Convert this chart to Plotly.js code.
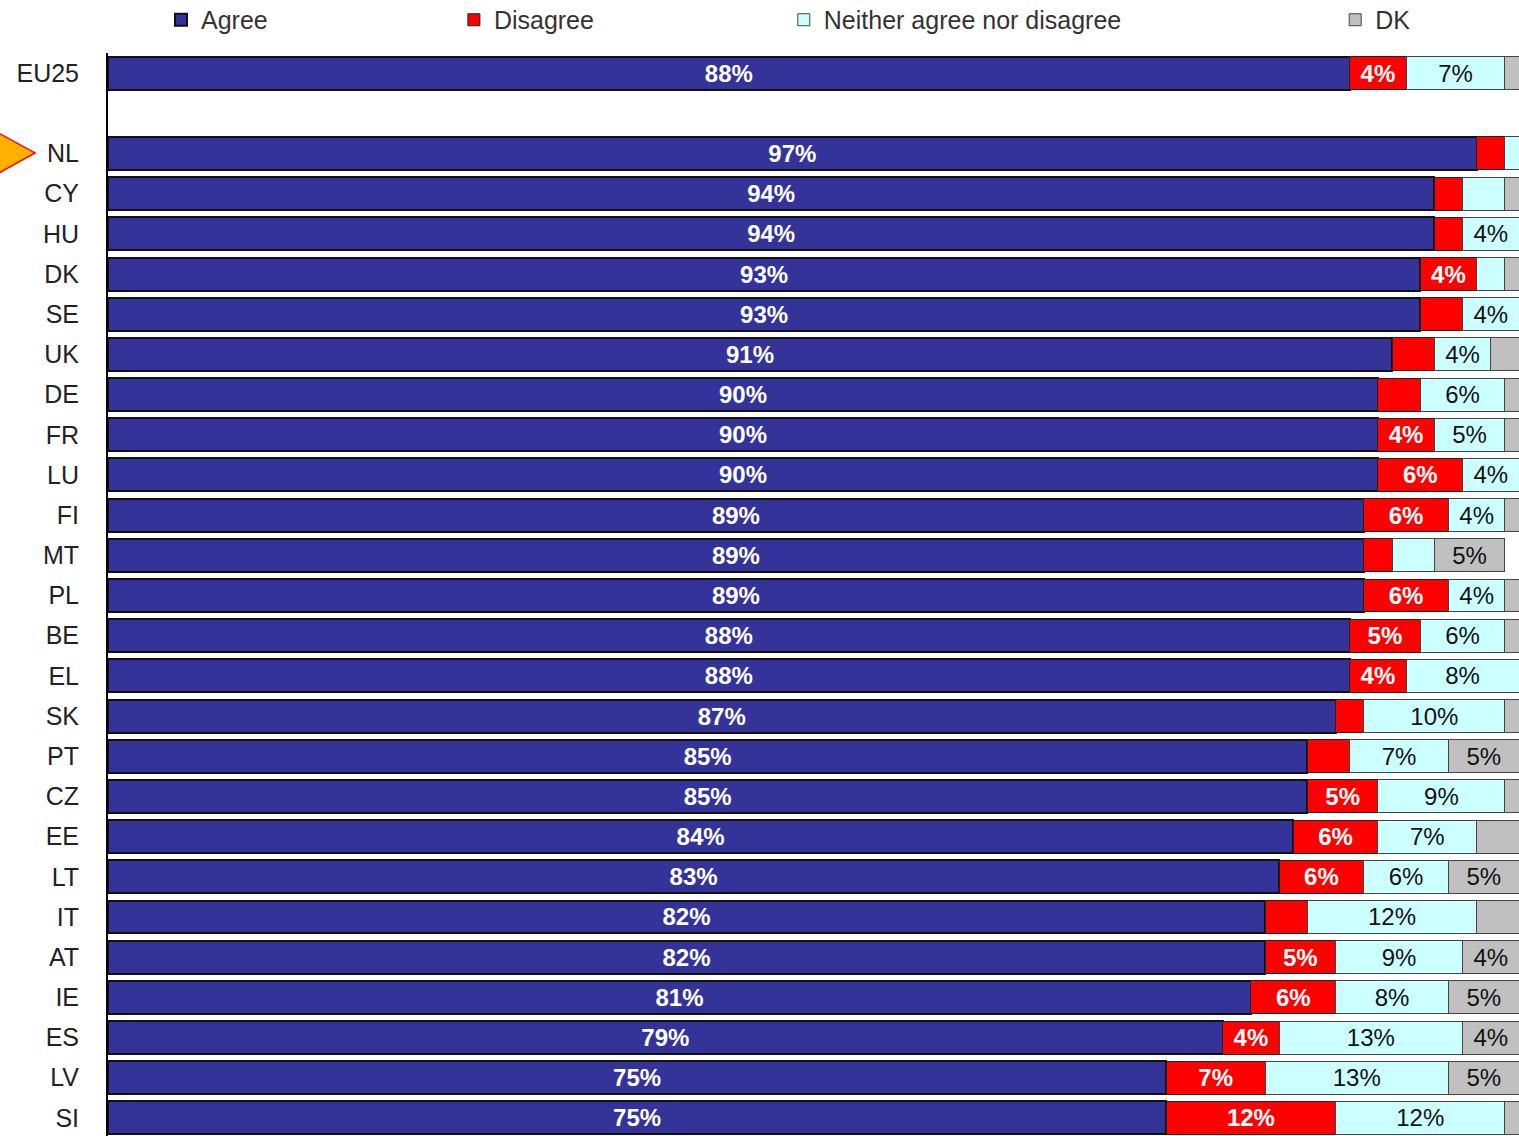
<!DOCTYPE html>
<html>
<head>
<meta charset="utf-8">
<script src="https://cdn.plot.ly/plotly-3.0.1.min.js"></script>
<style>
  html, body { margin: 0; padding: 0; background: #fff; }
  #chart { width: 1519px; height: 1136px; }
</style>
</head>
<body>
<div id="chart"></div>
<script>
// ' ' is the empty row between EU25 and the countries
var countries = ['EU25', ' ', 'NL', 'CY', 'HU', 'DK', 'SE', 'UK', 'DE', 'FR', 'LU', 'FI', 'MT', 'PL',
                 'BE', 'EL', 'SK', 'PT', 'CZ', 'EE', 'LT', 'IT', 'AT', 'IE', 'ES', 'LV', 'SI'];
var agree    = [88, null, 97, 94, 94, 93, 93, 91, 90, 90, 90, 89, 89, 89, 88, 88, 87, 85, 85, 84, 83, 82, 82, 81, 79, 75, 75];
var disagree = [4, null, 2, 2, 2, 4, 3, 3, 3, 4, 6, 6, 2, 6, 5, 4, 2, 3, 5, 6, 6, 3, 5, 6, 4, 7, 12];
var neither  = [7, null, 1, 3, 4, 2, 4, 4, 6, 5, 4, 4, 3, 4, 6, 8, 10, 7, 9, 7, 6, 12, 9, 8, 13, 13, 12];
var dk       = [1, null, 1, 1, 1, 1, 0, 2, 1, 1, 0, 1, 5, 2, 1, 1, 2, 5, 1, 3, 5, 3, 4, 5, 4, 5, 1];

var FONT = 'Liberation Sans, Arial, sans-serif';

// small shares (< 4%) carry no label in the original
function labels(vals) {
  return vals.map(function (v) { return (v !== null && v >= 4) ? v + '%' : ''; });
}

function segment(name, vals, fill, edge, edgeWidth, textColor, weight, legendId) {
  return {
    type: 'bar',
    orientation: 'h',
    name: name,
    y: countries,
    x: vals,
    text: labels(vals),
    textposition: 'inside',
    insidetextanchor: 'middle',
    textangle: 0,
    constraintext: 'none',
    insidetextfont: {family: FONT, size: 24, color: textColor, weight: weight},
    marker: {color: fill, line: {color: edge, width: edgeWidth}},
    hovertemplate: '%{y}: %{x}%<extra>' + name + '</extra>',
    legend: legendId
  };
}

var traces = [
  segment('Agree', agree, '#333399', '#111111', 2, '#ffffff', 'bold', 'legend'),
  segment('Disagree', disagree, '#ff0000', '#222222', 1, '#ffffff', 'bold', 'legend2'),
  segment('Neither agree nor disagree', neither, '#ccffff', '#444444', 1, '#111111', 'normal', 'legend3'),
  segment('DK', dk, '#c0c0c0', '#444444', 1, '#111111', 'normal', 'legend4')
];

// legends sit on the container so they do not push the top margin
function legendAt(x) {
  return {
    orientation: 'h', xref: 'container', yref: 'container',
    x: x, y: 0.9824, xanchor: 'left', yanchor: 'middle',
    font: {family: FONT, size: 25, color: '#333'},
    bgcolor: 'rgba(0,0,0,0)', borderwidth: 0
  };
}

var layout = {
  width: 1519,
  height: 1136,
  margin: {l: 108, r: 0, t: 53, b: 0},
  barmode: 'stack',
  bargap: 0.18,
  paper_bgcolor: '#ffffff',
  plot_bgcolor: '#ffffff',
  font: {family: FONT, color: '#222'},
  showlegend: true,
  xaxis: {range: [0, 100], visible: false, fixedrange: true},
  yaxis: {
    type: 'category',
    categoryorder: 'array',
    categoryarray: countries,
    range: [26.45, -0.5],
    showline: true, linecolor: '#000', linewidth: 2,
    ticks: '', showgrid: false, zeroline: false,
    tickfont: {family: FONT, size: 25, color: '#222'},
    ticklabelstandoff: 22,
    fixedrange: true
  },
  legend: legendAt(0.1060),
  legend2: legendAt(0.2988),
  legend3: legendAt(0.5160),
  legend4: legendAt(0.8790),
  shapes: [{
    // orange pointer in front of NL
    type: 'path', xref: 'paper', yref: 'paper',
    path: 'M -0.0801 0.928 L -0.0517 0.9077 L -0.0801 0.8873 Z',
    fillcolor: '#ffb000', line: {color: '#ff0000', width: 1.5}
  }]
};

Plotly.newPlot('chart', traces, layout, {displayModeBar: false, staticPlot: true});
</script>
</body>
</html>
